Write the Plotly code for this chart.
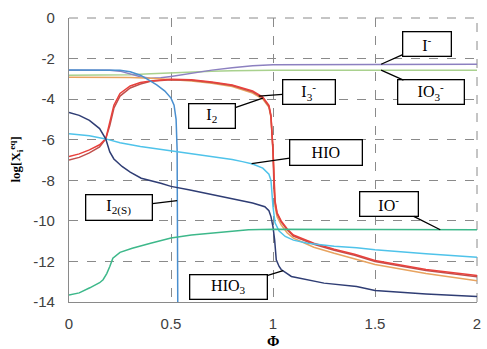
import plotly.graph_objects as go

# ---------------- data ----------------
phi_Im = [0, 0.2, 0.25, 0.3, 0.35, 0.4, 0.45, 0.5, 0.6, 0.7, 0.8, 0.9, 1.0, 1.5, 2.0]
log_Im = [-2.58, -2.58, -2.62, -2.75, -2.9, -2.97, -2.95, -2.88, -2.72, -2.57, -2.45, -2.35, -2.3, -2.28, -2.28]

phi_IO3m = [0, 0.2, 0.3, 0.4, 0.5, 0.6, 0.7, 0.8, 1.0, 1.5, 2.0]
log_IO3m = [-2.82, -2.82, -2.8, -2.75, -2.7, -2.65, -2.62, -2.6, -2.58, -2.57, -2.57]

phi_I2tot = [0, 0.2, 0.3, 0.4, 0.5, 0.6, 0.7, 0.8, 0.9, 0.95, 0.98, 0.99, 1.0, 1.005, 1.01,
             1.02, 1.04, 1.07, 1.1, 1.2, 1.3, 1.5, 1.75, 2.0]
log_I2tot = [-2.92, -2.92, -2.93, -2.97, -3.05, -3.1, -3.22, -3.38, -3.7, -4.0, -4.4, -4.9, -6.5, -8.5, -9.3,
             -9.8, -10.2, -10.6, -10.85, -11.3, -11.6, -12.15, -12.6, -12.95]

phi_I3m = [0, 0.05, 0.1, 0.15, 0.18, 0.2, 0.22, 0.25, 0.3, 0.35, 0.4, 0.5, 0.6, 0.7, 0.8, 0.9, 0.95,
           0.98, 0.99, 1.0, 1.005, 1.01, 1.02, 1.04, 1.07, 1.1, 1.2, 1.3, 1.4, 1.5, 1.75, 2.0]
log_I3m = [-6.83, -6.7, -6.5, -6.25, -5.96, -5.2, -4.3, -3.72, -3.35, -3.18, -3.1, -3.02, -3.05, -3.15,
           -3.3, -3.6, -3.9, -4.3, -4.8, -6.5, -8.3, -9.0, -9.6, -10.0, -10.4, -10.7, -11.1, -11.4,
           -11.65, -11.95, -12.4, -12.7]

phi_I2 = [0, 0.05, 0.1, 0.15, 0.18, 0.2, 0.22, 0.25, 0.3, 0.35, 0.4, 0.5, 0.6, 0.7, 0.8, 0.9, 0.95,
          0.98, 0.99, 1.0, 1.005, 1.01, 1.02, 1.04, 1.07, 1.1, 1.2, 1.3, 1.4, 1.5, 1.75, 2.0]
log_I2 = [-7.0, -6.87, -6.65, -6.35, -5.96, -5.3, -4.45, -3.85, -3.45, -3.25, -3.12, -3.04, -3.07, -3.18,
          -3.33, -3.64, -3.94, -4.35, -4.85, -6.6, -8.4, -9.1, -9.65, -10.05, -10.45, -10.75, -11.15,
          -11.45, -11.7, -12.0, -12.45, -12.75]

phi_I2s = [0, 0.2, 0.25, 0.3, 0.35, 0.39, 0.43, 0.47, 0.5, 0.515, 0.525, 0.53, 0.532, 0.534]
log_I2s = [-2.56, -2.56, -2.58, -2.65, -2.82, -3.05, -3.3, -3.6, -3.95, -4.3, -5.0, -6.5, -10.0, -16.0]

phi_HIO = [0, 0.1, 0.18, 0.25, 0.35, 0.5, 0.6, 0.7, 0.8, 0.85, 0.9, 0.95, 0.98, 0.99, 1.0, 1.01,
           1.03, 1.06, 1.1, 1.17, 1.3, 1.41, 1.5, 1.75, 2.0]
log_HIO = [-5.7, -5.8, -5.96, -6.15, -6.34, -6.55, -6.7, -6.85, -6.98, -7.08, -7.2, -7.4, -7.7, -8.0,
           -9.3, -10.1, -10.5, -10.77, -10.95, -11.1, -11.25, -11.33, -11.43, -11.62, -11.79]

phi_HIO3 = [0, 0.05, 0.1, 0.15, 0.18, 0.2, 0.22, 0.26, 0.3, 0.354, 0.45, 0.5, 0.587, 0.7, 0.83, 0.9,
            0.96, 0.98, 0.99, 1.0, 1.008, 1.016, 1.03, 1.04, 1.09, 1.25, 1.41, 1.5, 1.75, 2.0]
log_HIO3 = [-4.66, -4.8, -5.05, -5.45, -5.96, -6.6, -6.95, -7.32, -7.6, -7.9, -8.15, -8.3, -8.47, -8.7,
            -8.97, -9.12, -9.3, -9.5, -9.79, -10.3, -10.94, -11.92, -12.25, -12.4, -12.74, -13.07,
            -13.24, -13.43, -13.6, -13.73]

phi_IOm = [0, 0.05, 0.102, 0.15, 0.167, 0.185, 0.2, 0.215, 0.25, 0.31, 0.4, 0.5, 0.6, 0.7, 0.88, 1.0, 1.5, 2.0]
log_IOm = [-13.65, -13.55, -13.3, -13.05, -12.9, -12.6, -12.25, -11.84, -11.55, -11.35, -11.1, -10.85,
           -10.7, -10.6, -10.44, -10.41, -10.44, -10.44]

x_tickvals = [0, 0.5, 1, 1.5, 2]
x_ticktext = ["0", "0.5", "1", "1.5", "2"]
y_tickvals = [0, -2, -4, -6, -8, -10, -12, -14]
y_ticktext = ["0", "-2", "-4", "-6", "-8", "-10", "-12", "-14"]

# ---------------- figure ----------------
series = [
    ("IO3-", phi_IO3m, log_IO3m, "#a9d18e"),
    ("I-", phi_Im, log_Im, "#8c80c0"),
    ("I2 total", phi_I2tot, log_I2tot, "#e8a35f"),
    ("I2", phi_I2, log_I2, "#c0504d"),
    ("I3-", phi_I3m, log_I3m, "#e8413c"),
    ("I2(s)", phi_I2s, log_I2s, "#4a8fcf"),
    ("HIO", phi_HIO, log_HIO, "#4fc3ea"),
    ("HIO3", phi_HIO3, log_HIO3, "#2f3d74"),
    ("IO-", phi_IOm, log_IOm, "#3db88a"),
]

fig = go.Figure()

GRID = "#8a8a8a"
# dashed frame lines on top and right edge (gridlines at y=0 and x=2)
fig.add_shape(type="line", xref="paper", yref="paper", x0=0, x1=1, y0=1, y1=1,
              line=dict(color=GRID, width=1, dash="dash"), layer="below")
fig.add_shape(type="line", xref="paper", yref="paper", x0=1, x1=1, y0=0, y1=1,
              line=dict(color=GRID, width=1, dash="dash"), layer="below")

for name, xs, ys, col in series:
    fig.add_trace(go.Scatter(x=xs, y=ys, mode="lines", name=name,
                             line=dict(color=col, width=1.5), showlegend=False))

# labels: (text, curve point x, y, box centre x, y, box width, box height)
labels = [
    ("I<sup>-</sup>", 1.53, -2.28, 1.755, -1.26, 47, 23),
    ("IO<sub>3</sub><sup>-</sup>", 1.53, -2.57, 1.775, -3.67, 65, 23),
    ("I<sub>3</sub><sup>-</sup>", 0.93, -3.85, 1.175, -3.67, 51, 23),
    ("I<sub>2</sub>", 0.95, -3.95, 0.70, -4.82, 45, 23),
    ("HIO", 0.895, -7.18, 1.26, -6.64, 71, 24),
    ("I<sub>2(S)</sub>", 0.53, -9.0, 0.245, -9.35, 65, 24),
    ("HIO<sub>3</sub>", 1.05, -12.45, 0.78, -13.28, 76, 23),
    ("IO<sup>-</sup>", 1.82, -10.44, 1.57, -9.17, 57, 23),
]
for text, px, py, bx, by, w, h in labels:
    fig.add_annotation(x=px, y=py, ax=bx, ay=by, axref="x", ayref="y", xref="x", yref="y",
                       text=text, showarrow=True, arrowhead=0, arrowwidth=1.3, arrowcolor="black",
                       standoff=0, startstandoff=0,
                       font=dict(family="Liberation Serif", size=16, color="black"),
                       bgcolor="white", bordercolor="black", borderwidth=1.3, borderpad=0,
                       width=w, height=h)

# axis titles as annotations
fig.add_annotation(xref="paper", yref="paper", x=0.5, y=-0.137, text="<b>Φ</b>",
                   showarrow=False, xanchor="center", yanchor="middle",
                   font=dict(family="Liberation Serif", size=15, color="black"))
fig.add_annotation(xref="paper", yref="paper", x=-0.131, y=0.5,
                   text="<b>log[X<sub>i</sub><sup>eq</sup>]</b>", textangle=-90,
                   showarrow=False, xanchor="center", yanchor="middle",
                   font=dict(family="Liberation Serif", size=13, color="black"))

fig.update_layout(
    width=487, height=349,
    margin=dict(l=69, r=6, t=18, b=47),
    paper_bgcolor="white", plot_bgcolor="white",
    xaxis=dict(range=[0, 2], tickvals=x_tickvals, ticktext=x_ticktext,
               showgrid=True, gridcolor=GRID, griddash="dash", gridwidth=1,
               showline=True, linecolor=GRID, linewidth=1.2, zeroline=False,
               ticks="", ticklabelstandoff=8,
               tickfont=dict(family="Liberation Sans", size=15, color="#404040")),
    yaxis=dict(range=[-14, 0], tickvals=y_tickvals, ticktext=y_ticktext,
               showgrid=True, gridcolor=GRID, griddash="dash", gridwidth=1,
               showline=True, linecolor=GRID, linewidth=1.2, zeroline=False,
               ticks="", ticklabelstandoff=10,
               tickfont=dict(family="Liberation Sans", size=15, color="#404040")),
)

fig.write_html("out.html")
